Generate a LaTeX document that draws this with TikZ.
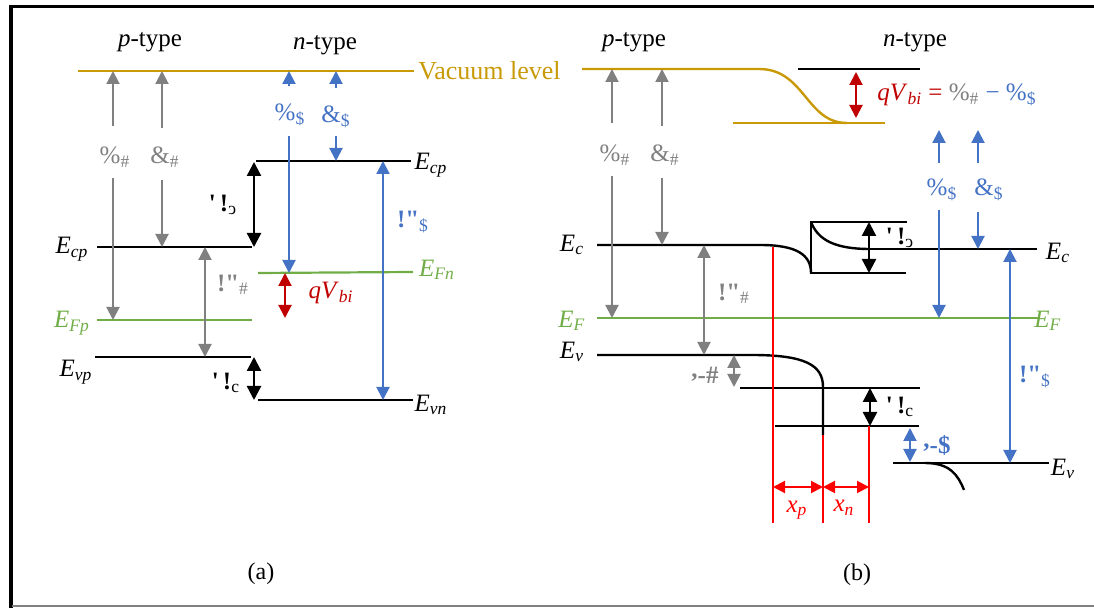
\documentclass[tikz,border=0pt]{standalone}
\usepackage{fontspec}
\setmainfont{Liberation Serif}[Ligatures=TeXOff]
\usepackage{graphicx}
\usetikzlibrary{arrows.meta, calc}
\definecolor{vacgold}{HTML}{C99A06}
\definecolor{fermigreen}{HTML}{70AD47}
\definecolor{nblue}{HTML}{4472C4}
\definecolor{pgray}{HTML}{808080}
\definecolor{bidark}{HTML}{C00000}
\definecolor{deplred}{HTML}{FF0000}
\newcommand\lblfont{\fontsize{12.5}{14}\selectfont}
\newcommand\lvl[2]{\textit{#1}\textsubscript{\textit{#2}}}
\newcommand\dEc{\textbf{'\,!}\textsubscript{\reflectbox{c}}}
\newcommand\dEv{\textbf{'\,!}\textsubscript{c}}
\newcommand\sublbl[2]{#1\textsubscript{#2}}

\begin{document}
\begin{tikzpicture}[
  x=0.5pt, y=-0.5pt,
  every node/.style={font=\lblfont, inner sep=1pt},
  band/.style={line width=1.2pt, black},
  vac/.style={line width=1.2pt, vacgold},
  fermi/.style={line width=1.1pt, fermigreen},
  garr/.style={-{Triangle[length=6.5pt,width=6.5pt]}, line width=1pt, pgray},
  gdbl/.style={{Triangle[length=6.5pt,width=6.5pt]}-{Triangle[length=6.5pt,width=6.5pt]}, line width=1pt, pgray},
  barr/.style={-{Triangle[length=6.5pt,width=6.5pt]}, line width=1pt, nblue},
  bdbl/.style={{Triangle[length=6.5pt,width=6.5pt]}-{Triangle[length=6.5pt,width=6.5pt]}, line width=1pt, nblue},
  kdbl/.style={{Triangle[length=7pt,width=7pt]}-{Triangle[length=7pt,width=7pt]}, line width=1.2pt, black},
  rdbl/.style={{Triangle[length=6.5pt,width=6.5pt]}-{Triangle[length=6.5pt,width=6.5pt]}, line width=1pt, bidark},
  xdbl/.style={{Triangle[length=6pt,width=6pt]}-{Triangle[length=6pt,width=6pt]}, line width=1pt, deplred},
  dep/.style={line width=1.1pt, deplred}
]
\useasboundingbox (0,0) rectangle (1094,608);
% frame
\draw[line width=1.8pt] (11,608) -- (11,6.5) -- (1094,6.5);
\draw[line width=0.8pt, pgray] (12,606) -- (1094,606);

% ---------- (a) before contact ----------
\node (ptypeA) at (150,42) {\textit{p}-type};
\node (ntypeA) at (325,45) {\textit{n}-type};
\coordinate (vacA1) at (78,71);
\coordinate (vacA2) at (414,71);
\draw[vac] (vacA1) -- (vacA2);
\node[anchor=west, text=vacgold, font=\fontsize{13}{15}\selectfont] (vaclbl) at (416,71) {Vacuum level};

\coordinate (ecpA1) at (97,247);   \coordinate (ecpA2) at (252,247);
\coordinate (efpA1) at (97,320);   \coordinate (efpA2) at (252,320);
\coordinate (evpA1) at (95,357);   \coordinate (evpA2) at (251,357);
\coordinate (ecnA1) at (256,161);  \coordinate (ecnA2) at (411,161);
\coordinate (efnA1) at (258,273);  \coordinate (efnA2) at (413,272);
\coordinate (evnA1) at (258,400);  \coordinate (evnA2) at (413,400);
\draw[band] (ecpA1) -- (ecpA2);
\draw[fermi] (efpA1) -- (efpA2);
\draw[band] (evpA1) -- (evpA2);
\draw[band] (ecnA1) -- (ecnA2);
\draw[fermi] (efnA1) -- (efnA2);
\draw[band] (evnA1) -- (evnA2);
\node (ecpAl) at (72,249) {\lvl{E}{cp}};
\node[text=fermigreen] (efpAl) at (72,323) {\lvl{E}{Fp}};
\node (evpAl) at (76,372) {\lvl{E}{vp}};
\node (ecnAl) at (431,165) {\lvl{E}{cp}};
\node[text=fermigreen] (efnAl) at (437,270) {\lvl{E}{Fn}};
\node (evnAl) at (431,405) {\lvl{E}{vn}};

% p-side work function / affinity
\node[text=pgray] (phipA) at (115,157) {\sublbl{\%}{\#}};
\node[text=pgray] (chipA) at (165,157) {\sublbl{\&}{\#}};
\coordinate (phipAu) at (113,126); \coordinate (phipAd) at (113,178);
\coordinate (chipAu) at (162,128); \coordinate (chipAd) at (162,180);
\draw[garr] (phipAu) -- (phipAu |- vacA1);
\draw[garr] (phipAd) -- (phipAd |- efpA1);
\draw[garr] (chipAu) -- (chipAu |- vacA1);
\draw[garr] (chipAd) -- (chipAd |- ecpA1);
\coordinate (egpA) at (205,247);
\draw[gdbl] (egpA) -- (egpA |- evpA1);
\node[text=pgray] (egpAl) at (233,285) {\textbf{!"}\textsubscript{\#}};

% n-side work function / affinity
\node[text=nblue] (phinA) at (290,115) {\sublbl{\%}{\$}};
\node[text=nblue] (chinA) at (336,117) {\sublbl{\&}{\$}};
\coordinate (phinAu) at (289,86);  \coordinate (phinAd) at (289,136);
\coordinate (chinAu) at (336,88);  \coordinate (chinAd) at (336,136);
\draw[barr] (phinAu) -- (phinAu |- vacA1);
\draw[barr] (phinAd) -- (phinAd |- efnA1);
\draw[barr] (chinAu) -- (chinAu |- vacA1);
\draw[barr] (chinAd) -- (chinAd |- ecnA1);
\coordinate (egnA) at (383,161);
\draw[bdbl] (egnA) -- (egnA |- evnA1);
\node[text=nblue] (egnAl) at (413,222) {\textbf{!"}\textsubscript{\$}};

% offsets
\coordinate (decA) at (254,162);
\draw[kdbl] (decA) -- (decA |- ecpA1);
\node (decAl) at (223,205) {\dEc};
\coordinate (devA) at (254,357);
\draw[kdbl] (devA) -- (devA |- evnA1);
\node (devAl) at (226,383) {\dEv};
\coordinate (vbiA1) at (285,273); \coordinate (vbiA2) at (285,318);
\draw[rdbl] (vbiA1) -- (vbiA2);
\node[text=bidark] (vbiAl) at (331,293) {\lvl{qV}{bi}};
\node[font=\fontsize{12}{14}\selectfont] (capA) at (261,574) {(a)};

% ---------- (b) after contact ----------
\node (ptypeB) at (634,42) {\textit{p}-type};
\node (ntypeB) at (915,42) {\textit{n}-type};
\coordinate (vacB1) at (582,69);
\coordinate (vacB2) at (733,123);
\draw[vac] (vacB1) -- (759,69) .. controls (805,69) and (806,123) .. (847,123);
\draw[vac] (vacB2) -- (885,123);
\coordinate (refB1) at (798,69);
\draw[band] (refB1) -- (920,69);
\draw[rdbl] (856,72) -- (856,118);
\node[anchor=west] (vbiB) at (875,95) {\textcolor{bidark}{\lvl{qV}{bi} =} \textcolor{pgray}{\sublbl{\%}{\#}} \textcolor{nblue}{\textminus{} \sublbl{\%}{\$}}};

% bands
\coordinate (ecB1) at (597,245);
\coordinate (efB1) at (597,318);
\coordinate (evB1) at (597,355);
\coordinate (ecB2) at (860,249);
\coordinate (evB2) at (893,463);
\draw[band] (ecB1) -- (760,245) .. controls (797,245) and (811,255) .. (811,273);
\draw[band] (907,222) -- (811,222) -- (811,273) -- (906,273);
\draw[band] (811,222) .. controls (818,240) and (835,249) .. (870,249);
\draw[band] (ecB2) -- (1037,249);
\draw[fermi] (efB1) -- (1038,318);
\draw[band] (evB1) -- (752,355) .. controls (805,355) and (823,365) .. (823,387) -- (823,435);
\draw[band] (740,388) -- (920,388);
\draw[band] (775,426) -- (919,426);
\draw[band] (evB2) -- (1049,463);
\draw[band] (925,463) .. controls (950,463) and (958,475) .. (964,490);
\node (ecBl) at (572,245) {\lvl{E}{c}};
\node[text=fermigreen] (efBl) at (572,321) {\lvl{E}{F}};
\node (evBl) at (572,352) {\lvl{E}{v}};
\node (ecBr) at (1058,253) {\lvl{E}{c}};
\node[text=fermigreen] (efBr) at (1048,321) {\lvl{E}{F}};
\node (evBr) at (1063,469) {\lvl{E}{v}};

% depletion region
\coordinate (xpL) at (773,247);
\coordinate (xpM) at (823,435);
\coordinate (xnR) at (869,426);
\draw[dep] (xpL) -- (773,523);
\draw[dep] (xpM) -- (823,523);
\draw[dep] (xnR) -- (869,523);
\draw[xdbl] (773,487) -- (823,487);
\draw[xdbl] (823,487) -- (869,487);
\node[text=deplred] (xpl) at (797,510) {\lvl{x}{p}};
\node[text=deplred] (xnl) at (844,508) {\lvl{x}{n}};

% p-side arrows
\node[text=pgray] (phipB) at (615,155) {\sublbl{\%}{\#}};
\node[text=pgray] (chipB) at (665,155) {\sublbl{\&}{\#}};
\coordinate (phipBu) at (612,123); \coordinate (phipBd) at (612,176);
\coordinate (chipBu) at (662,126); \coordinate (chipBd) at (662,178);
\draw[garr] (phipBu) -- (phipBu |- vacB1);
\draw[garr] (phipBd) -- (phipBd |- efB1);
\draw[garr] (chipBu) -- (chipBu |- vacB1);
\draw[garr] (chipBd) -- (chipBd |- ecB1);
\coordinate (egpB) at (704,245);
\draw[gdbl] (egpB) -- (egpB |- evB1);
\node[text=pgray] (egpBl) at (734,294) {\textbf{!"}\textsubscript{\#}};
\coordinate (dpB) at (734,355);
\draw[gdbl] (dpB) -- (734,387);
\node[text=pgray] (dpBl) at (705,375) {\textbf{\raisebox{0.5ex}{,}-\#}};

% n-side arrows
\node[text=nblue] (phinB) at (942,190) {\sublbl{\%}{\$}};
\node[text=nblue] (chinB) at (989,190) {\sublbl{\&}{\$}};
\coordinate (phinBu) at (939,163); \coordinate (phinBd) at (939,210);
\coordinate (chinBu) at (978,163); \coordinate (chinBd) at (978,212);
\draw[barr] (phinBu) -- (939,130);
\draw[barr] (phinBd) -- (phinBd |- efB1);
\draw[barr] (chinBu) -- (978,130);
\draw[barr] (chinBd) -- (chinBd |- ecB2);
\coordinate (egnB) at (1010,249);
\draw[bdbl] (egnB) -- (egnB |- evB2);
\node[text=nblue] (egnBl) at (1035,377) {\textbf{!"}\textsubscript{\$}};
\coordinate (dnB) at (910,428);
\draw[bdbl] (dnB) -- (910,462);
\node[text=nblue] (dnBl) at (937,445) {\textbf{\raisebox{0.5ex}{,}-\$}};

% offsets
\coordinate (decB) at (869,222);
\draw[kdbl] (decB) -- (869,273);
\node (decBl) at (900,238) {\dEc};
\coordinate (devB) at (870,388);
\draw[kdbl] (devB) -- (870,426);
\node (devBl) at (900,407) {\dEv};
\node[font=\fontsize{12}{14}\selectfont] (capB) at (857,575) {(b)};
\end{tikzpicture}
\end{document}
